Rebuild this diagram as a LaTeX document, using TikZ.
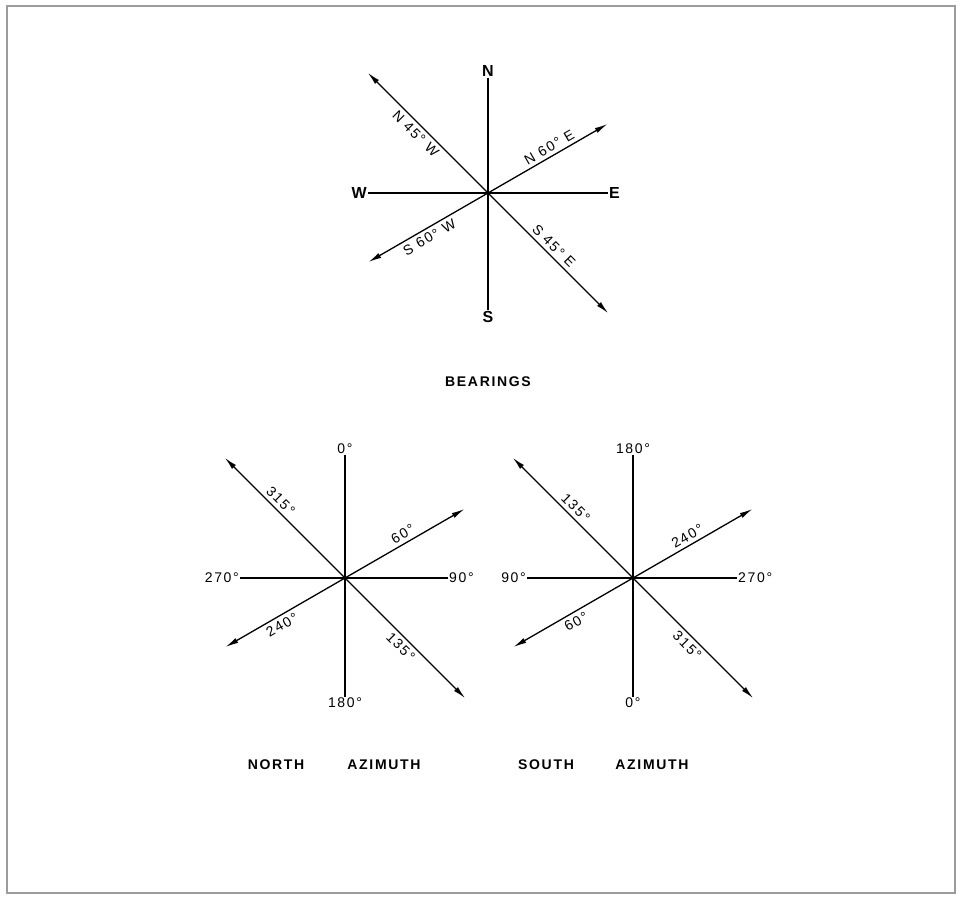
\documentclass[tikz,border=0pt]{standalone}
\usepackage{fontspec}
\setmainfont{Liberation Sans}
\newfontfamily\leroy[LetterSpace=12]{Liberation Sans}
\usetikzlibrary{arrows.meta}
\definecolor{rim}{HTML}{9C9C9C}

\begin{document}
\begin{tikzpicture}[x=1pt,y=1pt,
  ray/.style={line width=1.3pt,-{Latex[length=13pt,width=5.5pt]}},
  axis/.style={line width=1.3pt},
  pole/.style={font=\leroy\bfseries\fontsize{16}{18}\selectfont,inner sep=1pt},
  deg/.style={font=\leroy\fontsize{14}{16}\selectfont,inner sep=1pt},
  along/.style={font=\leroy\fontsize{14}{16}\selectfont,inner sep=4pt},
  title/.style={font=\leroy\bfseries\fontsize{14}{17}\selectfont,inner sep=1pt}]
\useasboundingbox (0,0) rectangle (961,899);
\draw[rim,line width=1.5pt] (7,6) rectangle (955,893);

% bearings
\begin{scope}[shift={(488,706)}]
  \coordinate (b0) at (0,0);
  \node[pole,anchor=south] (bN) at (0,115) {N};
  \node[pole,anchor=north] (bS) at (0,-117) {S};
  \node[pole,anchor=east] (bW) at (-120,0) {W};
  \node[pole,anchor=west] (bE) at (120,0) {E};
  \draw[axis] (bN) -- (bS);
  \draw[axis] (bW) -- (bE);
  \foreach \a/\l/\r/\d/\s/\t [count=\i] in {135/170/-45/93/north/{N 45° W},30/138/30/76/south/{N 60° E},
      210/138/30/73/north/{S 60° W},-45/170/-45/84/south/{S 45° E}}{
    \coordinate (b\i) at (\a:\l);
    \draw[ray] (b0) -- (b\i);
    \node[along,rotate=\r,anchor=\s] (bt\i) at (\a:\d) {\t};
  }
\end{scope}
\node[title] (bearings) at (488,517) {BEARINGS};

% north azimuth
\begin{scope}[shift={(345,321)}]
  \coordinate (n0) at (0,0);
  \node[deg,anchor=south] (nN) at (0,123) {0°};
  \node[deg,anchor=north] (nS) at (0,-119) {180°};
  \node[deg,anchor=east] (nW) at (-105,0) {270°};
  \node[deg,anchor=west] (nE) at (103,0) {90°};
  \draw[axis] (nN) -- (nS);
  \draw[axis] (nW) -- (nE);
  \foreach \a/\l/\r/\d/\s/\t [count=\i] in {135/170/-45/100/south/{315°},30/138/30/72/south/{60°},
      210/138/30/78/north/{240°},-45/170/-45/88/north/{135°}}{
    \coordinate (n\i) at (\a:\l);
    \draw[ray] (n0) -- (n\i);
    \node[along,rotate=\r,anchor=\s] (nt\i) at (\a:\d) {\t};
  }
\end{scope}

% south azimuth
\begin{scope}[shift={(633,321)}]
  \coordinate (s0) at (0,0);
  \node[deg,anchor=south] (sN) at (0,123) {180°};
  \node[deg,anchor=north] (sS) at (0,-119) {0°};
  \node[deg,anchor=east] (sW) at (-106,0) {90°};
  \node[deg,anchor=west] (sE) at (104,0) {270°};
  \draw[axis] (sN) -- (sS);
  \draw[axis] (sW) -- (sE);
  \foreach \a/\l/\r/\d/\s/\t [count=\i] in {135/170/-45/90/south/{135°},30/138/30/68/south/{240°},
      210/138/30/71/north/{60°},-45/170/-45/86/north/{315°}}{
    \coordinate (s\i) at (\a:\l);
    \draw[ray] (s0) -- (s\i);
    \node[along,rotate=\r,anchor=\s] (st\i) at (\a:\d) {\t};
  }
\end{scope}

\node[title] (north) at (276,134) {NORTH};
\node[title] (naz) at (384,134) {AZIMUTH};
\node[title] (south) at (546,134) {SOUTH};
\node[title] (saz) at (652,134) {AZIMUTH};
\end{tikzpicture}
\end{document}
